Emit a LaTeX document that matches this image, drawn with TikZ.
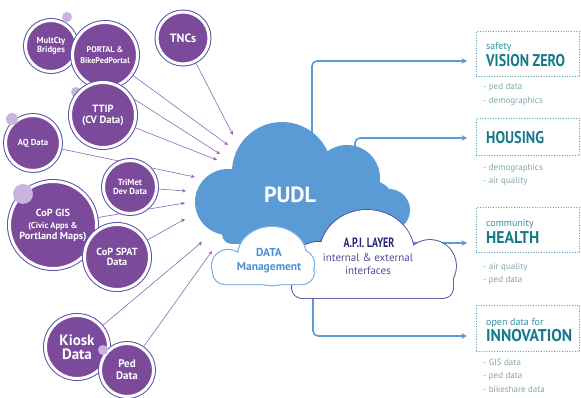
\documentclass[tikz,border=0pt]{standalone}
\usepackage{fontspec}
\setmainfont{PT Sans}
\newfontfamily\narrowfont[FakeStretch=0.74]{PT Sans}
\usepackage{tikz}
\usetikzlibrary{arrows.meta, backgrounds}
\definecolor{srcPurple}{RGB}{123, 74, 155}
\definecolor{ringPurple}{RGB}{90, 85, 168}
\definecolor{dotLilac}{RGB}{200, 180, 222}
\definecolor{linkPurple}{RGB}{150, 100, 185}
\definecolor{cloudBlue}{RGB}{91, 155, 213}
\definecolor{mgmtBlue}{RGB}{125, 178, 226}
\definecolor{mgmtText}{RGB}{75, 145, 210}
\definecolor{apiNavy}{RGB}{40, 40, 120}
\definecolor{apiPurple}{RGB}{85, 75, 155}
\definecolor{goalTeal}{RGB}{22, 122, 140}
\definecolor{tagTeal}{RGB}{50, 145, 162}
\definecolor{boxTeal}{RGB}{40, 140, 165}
\definecolor{listGray}{RGB}{130, 165, 175}

% 見出しを決まった幅に収める
\newcommand{\fitwidth}[2]{\resizebox{#1}{\height}{#2}}

\begin{document}
\begin{tikzpicture}[x=1pt, y=-1pt,
    src/.style={circle, inner sep=0pt, fill=srcPurple, draw=white, line width=3pt,
      preaction={draw=ringPurple, line width=5pt}, text=white, align=center},
    link/.style={linkPurple, line width=0.6pt, -{Stealth[length=4pt, width=3.6pt]}},
    feed/.style={cloudBlue, line width=1.6pt, rounded corners=5pt, shorten >=9pt,
      -{Stealth[length=5.5pt, width=5.5pt]}},
    goalbox/.style={draw=boxTeal, line width=1.1pt, dash pattern=on 0pt off 2.6pt,
      line cap=round, minimum width=103pt, anchor=north west},
    goaltag/.style={anchor=west, inner sep=0pt, text=tagTeal, font=\fontsize{10}{12}\selectfont},
    goalhead/.style={anchor=west, inner sep=0pt, text=goalTeal,
      font=\bfseries\fontsize{17}{18}\selectfont},
    goallist/.style={anchor=north west, inner sep=0pt, align=left, text=listGray,
      font=\fontsize{9}{13.5}\selectfont},
  ]
  \useasboundingbox (0,0) rectangle (581,398);

  % 雲 PUDL
  \fill[cloudBlue] (282,172) circle (50) (347,178) circle (33) (389,210) circle (21)
    (228,202) circle (33) (320,200) circle (40) (370,205) circle (25);
  \fill[cloudBlue, rounded corners=10] (222,190) rectangle (400,244);
  \node[text=white, font=\bfseries\fontsize{22}{24}\selectfont] (pudl) at (290,195) {PUDL};

  % 右側の枠
  \node[goalbox, minimum height=45pt] (vzBox) at (476,31) {};
  \node[goaltag] (vzTag) at (486,47) {safety};
  \node[goalhead] (vzHead) at (486,61) {\fitwidth{79pt}{VISION ZERO}};
  \node[goallist] (vzList) at (483,83.5) {- ped data\\- demographics};

  \node[goalbox, minimum height=37pt] (hsBox) at (476,118) {};
  \node[goalhead] (hsHead) at (486,138) {\fitwidth{58pt}{HOUSING}};
  \node[goallist] (hsList) at (483,163.5) {- demographics\\- air quality};

  \node[goalbox, minimum height=45pt] (hlBox) at (476,207) {};
  \node[goaltag] (hlTag) at (486,224) {community};
  \node[goalhead] (hlHead) at (486,238) {\fitwidth{53pt}{HEALTH}};
  \node[goallist] (hlList) at (483,262.5) {- air quality\\- ped data};

  \node[goalbox, minimum height=46pt] (inBox) at (476,305) {};
  \node[goaltag] (inTag) at (486,323) {open data for};
  \node[goalhead] (inHead) at (486,336) {\fitwidth{86pt}{INNOVATION}};
  \node[goallist] (inList) at (483,358.5) {- GIS data\\- ped data\\- bikeshare data};

  % 出力の矢印
  \coordinate (pudlTop) at (312,150);
  \coordinate (pudlRight) at (355,160);
  \coordinate (apiRight) at (400,243);
  \coordinate (apiBottom) at (313,285);
  \draw[feed] (pudlTop) |- (vzHead -| vzBox.west);
  \draw[feed] (pudlRight) |- (hsHead -| hsBox.west);
  \draw[feed] (apiRight) -- (apiRight -| hlBox.west);
  \draw[feed] (apiBottom) |- (inHead -| inBox.west);

  % 雲 API
  \draw[apiPurple, line width=1.8pt] (367,253) ellipse (47 and 43) (318,270) circle (28) (430,266) circle (26);
  \draw[apiPurple, line width=1.8pt, rounded corners=10] (292,268) rectangle (453,298);
  \fill[white] (367,253) ellipse (47 and 43) (318,270) circle (28) (430,266) circle (26);
  \fill[white, rounded corners=10] (292,268) rectangle (453,298);

  % 雲 DATA Management
  \draw[mgmtBlue, line width=2.4pt] (228,266) circle (16) (272,256) ellipse (34 and 29) (300,264) circle (14);
  \draw[mgmtBlue, line width=2.4pt, rounded corners=12] (213,262) rectangle (314,284);
  \fill[white] (228,266) circle (16) (272,256) ellipse (34 and 29) (300,264) circle (14);
  \fill[white, rounded corners=12] (213,262) rectangle (314,284);

  \node[align=center, text=mgmtText, font=\bfseries\fontsize{11.5}{14}\selectfont] (mgmt) at (269,261) {DATA\\Management};
  \node[text=apiNavy, font=\narrowfont\bfseries\fontsize{13.5}{15}\selectfont] (api) at (369,243) {A.P.I. LAYER};
  \node[align=center, text=apiPurple, font=\fontsize{11}{13}\selectfont] (apiSub) at (368,264) {internal \& external\\interfaces};

  % 入力データ
  \fill[dotLilac] (67,17) circle (5);
  \node[src, minimum size=51pt, font=\bfseries\fontsize{8.7}{9.5}\selectfont] (mult) at (51,46) {MultCty\\Bridges};
  \node[src, minimum size=65pt, font=\bfseries\fontsize{8.2}{11}\selectfont] (portal) at (105,55) {PORTAL \&\\BikePedPortal};
  \node[src, minimum size=52pt, font=\bfseries\fontsize{12}{14}\selectfont] (tnc) at (183,38) {TNCs};
  \fill[dotLilac] (76,92) circle (5);
  \node[src, minimum size=65pt, font=\bfseries\fontsize{10.5}{11}\selectfont] (ttip) at (103,115) {TTIP\\(CV Data)};
  \node[src, minimum size=55pt, font=\bfseries\fontsize{8.7}{10}\selectfont] (aq) at (33,143) {AQ Data};
  \fill[dotLilac] (12,119) circle (6);
  \node[src, minimum size=53pt, font=\bfseries\fontsize{8.8}{9.5}\selectfont] (trimet) at (130,187) {TriMet\\Dev Data};
  \node[src, minimum size=87pt, font=\bfseries\fontsize{10.3}{11}\selectfont] (gis) at (53,225)
    {CoP GIS\\[1pt]\fontsize{8.6}{9.5}\selectfont(Civic Apps \&\\Portland Maps)};
  \fill[dotLilac] (23,194) circle (10);
  \node[src, minimum size=65pt, font=\bfseries\fontsize{10.3}{10.5}\selectfont] (spat) at (117,257) {CoP SPAT\\Data};
  \node[src, minimum size=63pt, font=\bfseries\fontsize{15}{14}\selectfont] (kiosk) at (77,347) {Kiosk\\Data};
  \node[src, minimum size=53pt, font=\bfseries\fontsize{11}{12}\selectfont] (ped) at (127,370) {Ped\\Data};
  \fill[dotLilac] (103,350) circle (5);

  % 入力の矢印
  \coordinate (tipTnc) at (233,135);
  \coordinate (tipPortal) at (228,145);
  \coordinate (tipMult) at (220,154);
  \coordinate (tipTtip) at (217,160);
  \coordinate (tipAq) at (195,177);
  \coordinate (tipTrimet) at (186,191);
  \coordinate (tipGis) at (185,203);
  \coordinate (tipSpat) at (185,219);
  \coordinate (tipKiosk) at (202,242);
  \coordinate (tipPed) at (212,251);
  \begin{scope}[on background layer]
    \foreach \src/\tip in {tnc/tipTnc, portal/tipPortal, mult/tipMult, ttip/tipTtip,
        aq/tipAq, trimet/tipTrimet, gis/tipGis, spat/tipSpat, kiosk/tipKiosk, ped/tipPed}
      \draw[link] (\src.center) -- (\tip);
  \end{scope}
\end{tikzpicture}
\end{document}
